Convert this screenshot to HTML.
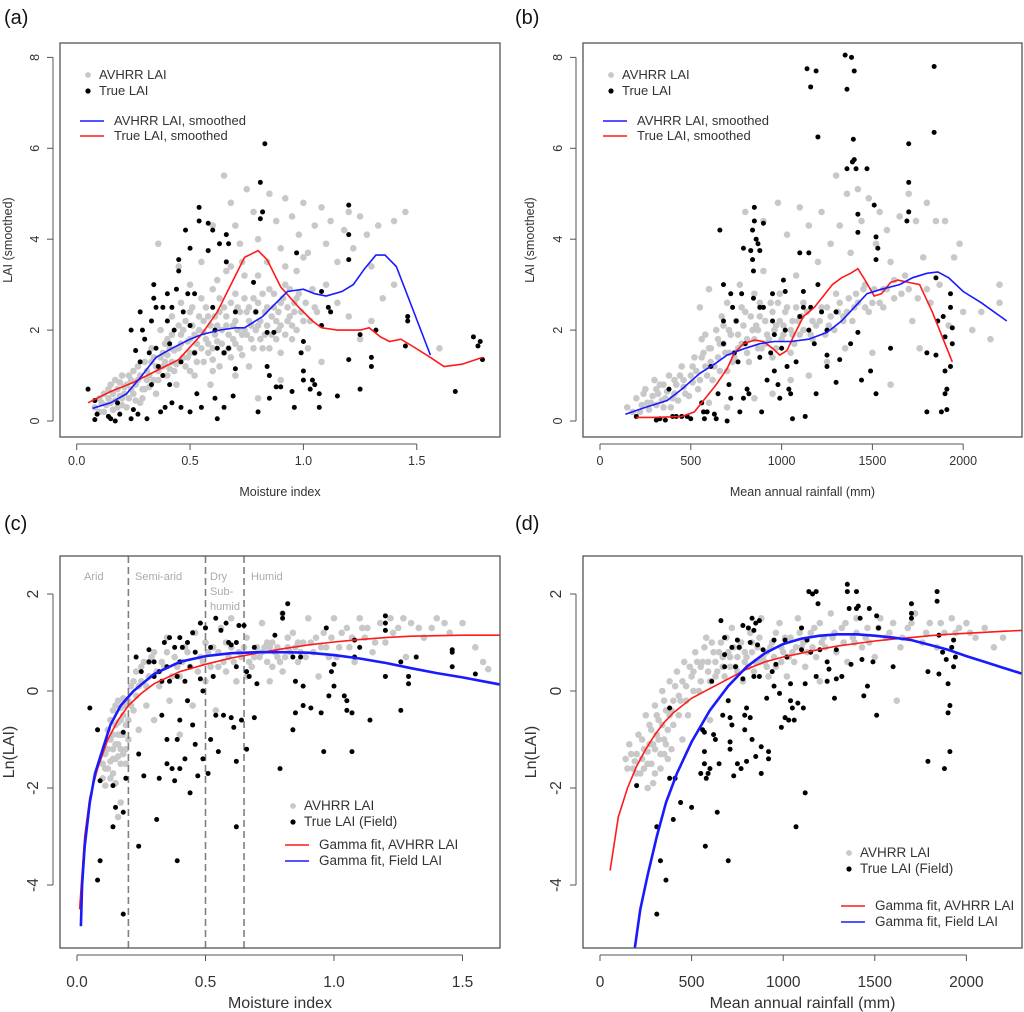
<!DOCTYPE html>
<html><head><meta charset="utf-8"><style>
body{margin:0;background:#fff;}
svg{display:block;font-family:"Liberation Sans",Arial,sans-serif;}
</style></head><body>
<svg id="fig" width="1024" height="1012" viewBox="0 0 1024 1012" xmlns="http://www.w3.org/2000/svg"></svg>
<script>
// ---- Panel (a) data: moisture index vs LAI ----
const aGrey=[.08,.3,.1,.5,.12,.2,.12,.6,.15,.4,.15,.8,.18,.3,.18,.7,.2,1,.2,.5,.22,.3,.22,.8,.25,.6,.25,1.1,.27,.9,.28,.4,.3,1.3,.3,.7,.32,1,.33,1.6,.35,1.2,.35,.6,.37,2,.38,1.5,.4,1,.4,1.8,.42,2.3,.42,1.3,.44,.8,.45,1.6,.46,2.6,.47,2,.48,1.2,.5,1.8,.5,2.4,.52,1,.52,1.5,.54,2,.55,2.7,.56,1.3,.57,1.8,.58,2.3,.59,.8,.6,1.6,.6,2.9,.62,2.1,.63,1.2,.64,1.7,.65,2.5,.66,3.3,.67,1.9,.68,1.4,.7,2.2,.7,2.8,.72,1.6,.73,3.5,.74,2,.75,2.4,.76,1.2,.77,1.8,.78,2.7,.8,2.1,.8,3.2,.82,1.6,.83,2.4,.85,2.9,.86,1.9,.88,2.2,.9,2.6,.9,1.5,.92,3,.94,2.3,.95,1.8,.97,2.7,1,2.2,1.02,1.6,1.05,2.5,.65,5.4,.68,4.8,.7,4.3,.72,3.9,.75,5.1,.78,4.6,.8,4,.85,5,.88,4.4,.9,3.8,.92,4.9,.95,4.5,.98,4.1,1,4.8,1.02,3.7,1.05,4.3,1.08,4.7,1.1,3.9,1.12,4.4,1.15,3.5,1.18,4.2,1.2,4.6,1.22,3.8,1.25,4.5,1.28,4.1,1.3,3.4,1.33,4.3,1.35,2.7,1.4,4.4,1.4,3,1.45,4.6,1.1,3,1.15,2.6,1.2,2.3,1.08,1.3,1.3,2.2,.55,3.5,.5,3,.45,3.4,.6,4.3,1.6,1.6,1.25,1.8,.9,.9,.8,.5,.36,3.9,.14,.5,.17,.9,.21,.6,.24,.9,.27,1.2,.29,.5,.31,.9,.34,1.4,.36,.9,.39,1.3,.41,1.6,.43,1.1,.46,1.9,.49,1.4,.51,2.1,.53,1.7,.56,2.2,.58,1.5,.61,1.9,.63,2.4,.66,2.1,.69,1.8,.71,2.5,.73,1.9,.76,2.2,.79,2.4,.81,1.8,.84,2.1,.87,2.5,.89,2,.93,2.2,.96,2.4,
.1,.2,.11,.4,.13,.35,.14,.7,.16,.25,.16,.6,.17,.45,.19,.55,.19,.85,.2,.35,.21,.75,.23,.5,.23,1,.24,.7,.26,.45,.26,.8,.28,1,.29,.7,.31,1.1,.32,.75,.33,1.3,.34,.9,.36,1.1,.37,1.4,.38,1.2,.39,1.7,.4,1.45,.41,1.15,.42,1.9,.43,1.55,.44,1.25,.45,2.1,.46,1.7,.47,1.4,.48,2.2,.49,1.75,.5,1.5,.51,2.5,.52,1.9,.53,1.3,.54,2.3,.55,1.6,.56,1.95,.57,2.5,.58,1.7,.59,2.1,.6,1.35,.61,2.3,.62,1.75,.63,2.7,.64,2,.65,1.5,.66,2.3,.67,1.6,.68,2.6,.69,2.1,.7,1.7,.71,2,.72,2.4,.73,1.45,.74,2.7,.75,1.9,.76,2.5,.77,2.1,.78,1.6,.79,2,.8,2.6,.81,2.2,.82,2.8,.83,1.9,.84,2.5,.85,1.6,.86,2.3,.87,2.8,.88,1.8,.89,2.4,.9,2.1,.91,2.7,.92,1.9,.93,2.5,.94,2.9,.95,2.1,.96,2.6,.97,2,.98,2.8,.99,2.4,1.01,2.6,1.03,2.2,1.04,2.9,1.06,2.4,.62,3.1,.68,3.4,.74,3.2,.84,3.5,.92,3.4,.97,3.3,1.0,3.6,.7,1.0,.6,1.1,.5,1.1];
const aBlack=[.05,.7,.08,.45,.08,.03,.09,.15,.14,.1,.15,.05,.17,0,.18,.4,.19,.15,.24,2,.24,.05,.25,.25,.26,1.55,.27,.15,.28,2.4,.29,2,.28,1.3,.3,1.8,.31,.05,.32,1.5,.33,2.2,.33,.8,.34,3,.34,2.7,.35,2.5,.35,1.6,.36,1.2,.37,.2,.38,2.5,.38,1,.39,.3,.4,2.8,.4,2.2,.41,1.7,.41,.8,.42,.4,.42,2.5,.43,2,.44,2.9,.45,3.55,.45,3.3,.46,1.3,.46,.3,.47,2.4,.48,4.2,.49,2.8,.5,3.8,.5,2.1,.5,.2,.52,2.8,.52,1.5,.53,.6,.54,4.7,.54,4.4,.55,.3,.58,4.35,.58,3.75,.6,4.2,.6,2.5,.61,2,.61,.5,.62,1.6,.62,.05,.63,3.9,.65,1.5,.65,.3,.66,4.1,.66,3.5,.67,3.9,.67,1.6,.7,1.15,.7,2.4,.69,.55,.78,3.05,.79,2.4,.8,.2,.81,4.45,.82,4.6,.81,5.25,.83,6.1,.84,1.95,.84,1.2,.85,1,.85,.5,.87,1.95,.88,.75,.9,.75,.95,.65,.96,.3,.97,3.7,.99,1.5,1,1.1,1,.9,1,1.75,1.03,.7,1.04,.9,1.05,.8,1.07,.3,1.07,.6,1.08,2.85,1.08,2.1,1.11,2.5,1.12,2.4,1.15,.55,1.2,4.75,1.2,4.1,1.2,3.55,1.2,1.35,1.25,1.9,1.25,.7,1.3,1.4,1.3,1.2,1.32,2,1.46,2.3,1.46,2.2,1.45,1.65,1.67,.65,1.75,1.85,1.77,1.65,1.78,1.75,1.79,1.35];
const aRed=[.05,.4,.15,.65,.25,.85,.35,1.1,.45,1.35,.55,1.9,.62,2.4,.68,3,.74,3.6,.8,3.75,.84,3.55,.9,2.95,.98,2.5,1.04,2.2,1.08,2.05,1.15,2,1.25,2,1.29,2.05,1.34,1.85,1.38,1.75,1.43,1.8,1.48,1.65,1.56,1.4,1.62,1.2,1.7,1.25,1.79,1.4];
const aBlue=[.07,.28,.15,.4,.22,.6,.28,.95,.35,1.4,.42,1.6,.5,1.8,.55,1.9,.63,2,.7,2.05,.74,2.05,.82,2.3,.88,2.6,.93,2.85,1,2.9,1.05,2.8,1.1,2.75,1.17,2.85,1.22,3,1.27,3.35,1.32,3.65,1.36,3.65,1.41,3.4,1.46,2.75,1.56,1.45];
const aXTicks=[0,0.5,1,1.5], aXLabels=["0.0","0.5","1.0","1.5"];
const abYTicks=[0,2,4,6,8];
// ---- Panel (b) data: rainfall vs LAI ----
const bGrey=[150,.3,200,.5,220,.2,250,.7,280,.4,300,.9,320,.6,350,.3,350,.8,380,1,400,.5,420,.8,450,1.2,470,.6,500,1,520,1.4,540,.7,550,2.5,560,1.8,580,1.2,600,1.6,600,2.9,620,.9,640,2,650,1.4,670,2.3,680,1.7,700,1.1,700,2.6,720,1.9,740,1.4,750,2.2,770,3,780,1.7,800,2.4,800,4.6,820,1.3,840,2,850,2.8,870,1.6,880,2.3,900,3.3,900,4.4,920,1.9,940,2.6,950,1.4,970,2.1,980,4.8,990,2.8,1000,1.8,1020,2.4,1030,4.1,1050,1.5,1060,2.2,1080,3.2,1100,4.7,1100,1.9,1120,2.6,1150,4.3,1170,2.2,1200,3.5,1220,4.6,1250,2.5,1270,3.9,1300,5.4,1300,2.8,1320,4.3,1340,2.2,1360,5,1380,3.7,1400,2.5,1420,5.1,1440,4.4,1460,3,1480,4.9,1500,2.6,1520,3.9,1540,4.6,1560,2.9,1580,4.2,1600,3.5,1620,2.7,1650,4.5,1680,3.2,1700,5,1720,2.2,1740,4.4,1760,1.6,1780,3.6,1800,4.8,1820,2.6,1850,4.4,1870,3,1900,4.4,1920,2.1,1950,3.6,1980,3.9,2000,2.4,2050,2,2100,2.4,2150,1.8,2200,3,2200,2.6,1150,1,1050,.9,950,.6,850,.5,1250,1.3,1350,1.6,1500,1.5,1600,.8,600,.4,700,.3,260,.4,310,.7,360,.5,410,.9,460,.9,510,1.2,560,1.4,610,1.3,660,1.7,710,1.5,760,1.9,810,1.8,860,2.1,910,1.7,960,2,1010,2.1,1060,1.9,1110,2.3,1160,1.9,1210,2.2,1260,2.1,1310,2.4,1360,2.4,1410,2.8,1460,2.5,1560,2.5,1660,2.8,
180,.2,230,.35,240,.6,270,.25,290,.55,310,.35,330,.8,340,.45,370,.65,390,.3,410,.6,430,.45,440,1.0,460,.75,490,.55,510,.85,530,1.1,550,.9,570,1.5,590,1.0,610,1.6,630,1.2,650,1.8,660,1.1,690,1.5,710,2.0,730,1.3,760,1.6,790,2.1,810,1.5,830,2.3,850,1.8,870,2.0,890,1.6,910,2.2,930,1.8,950,2.4,970,1.6,990,2.2,1010,1.9,1030,2.5,1050,2.0,1070,1.7,1090,2.2,1120,2.0,1140,2.4,1170,1.8,1190,2.1,1220,2.5,1240,1.9,1270,2.3,1290,2.0,1320,2.6,1340,2.3,1370,2.7,1390,2.2,1420,2.6,1450,2.9,1480,2.4,1510,2.9,1540,2.6,1580,2.9,1620,3.1,1700,2.9,1750,2.7,1800,2.9,780,2.5,880,2.6,980,2.6,1080,2.5,680,2.1,580,1.9];
const bBlack=[200,.1,310,.02,330,.05,360,.02,380,.7,400,.1,420,.1,450,.1,480,.1,500,.05,560,.4,570,.2,575,.05,590,.2,610,1.2,630,.15,640,.05,650,.6,660,4.2,680,3,680,2.2,680,1.7,700,0,710,.8,720,.5,720,2.8,730,2.5,740,1.5,750,2.2,760,1.3,770,.2,780,2.8,790,3.8,790,.5,800,1.7,810,.7,820,.6,830,3.75,840,4.2,840,3.55,845,3.3,845,2.7,850,4.7,850,4.4,860,4,870,3.9,880,3.75,880,2.5,880,1.4,890,.2,900,4.35,900,2.5,920,.9,940,1.5,950,2.8,950,2.2,960,1.9,960,1.1,980,.8,990,.5,1000,1.6,1010,3.1,1020,2.85,1020,2,1030,1.2,1040,.7,1050,.6,1060,.05,1080,1.3,1100,3.7,1100,2.3,1120,2.85,1120,2.5,1130,.1,1140,7.75,1150,3.7,1150,2,1160,7.35,1160,2.5,1180,1.7,1190,7.7,1190,.6,1200,6.25,1200,3,1220,2.4,1250,2,1250,1.45,1250,1.2,1300,2.4,1300,.85,1320,1.35,1350,8.05,1360,7.3,1360,5.55,1380,1.7,1385,8,1390,5.7,1395,6.2,1400,7.7,1400,5.75,1410,5.55,1420,4.55,1420,4.15,1420,1.95,1440,.9,1470,5.55,1490,1.1,1510,4.75,1520,4.05,1520,3.55,1520,.6,1530,3.8,1600,1.6,1690,4.4,1700,6.1,1700,5.25,1700,4.6,1800,1.5,1800,.2,1840,7.8,1840,6.35,1850,3.15,1850,1.45,1860,2.2,1880,.2,1890,2.3,1900,1.85,1900,1.1,1900,.6,1910,.7,1910,.25,1930,2.8,1930,2.5,1930,1.2,1940,1.7,1940,2.05];
const bRed=[200,.08,300,.08,450,.1,520,.2,580,.5,640,.8,700,1.15,740,1.5,790,1.7,850,1.78,900,1.75,950,1.6,990,1.45,1030,1.55,1070,1.9,1120,2.3,1180,2.5,1230,2.75,1280,3,1330,3.15,1380,3.25,1420,3.35,1460,3.1,1510,2.75,1550,2.8,1600,3.05,1640,3.1,1700,3.05,1760,3,1830,2.4,1900,1.7,1940,1.3];
const bBlue=[140,.15,250,.3,370,.45,450,.7,550,1.05,630,1.25,700,1.45,800,1.6,880,1.7,960,1.75,1050,1.75,1150,1.8,1250,1.95,1330,2.2,1400,2.5,1470,2.8,1550,2.9,1650,3,1720,3.15,1800,3.25,1860,3.28,1920,3.15,2000,2.85,2100,2.6,2240,2.2];
const bdXTicks=[0,500,1000,1500,2000];
// ---- Panel (c) data: moisture index vs ln(LAI) ----
const cGrey=[.1,-1.8,.11,-1.3,.12,-.8,.12,-1.6,.13,-1,.14,-.4,.14,-1.4,.15,-.7,.15,-1.9,.16,-1.1,.16,-.2,.17,-.6,.17,-1.5,.18,-.9,.19,-.3,.19,-1.2,.2,-.6,.21,.1,.22,-.4,.23,.4,.24,-.8,.25,.2,.26,.6,.27,-.3,.28,.3,.3,.8,.3,-.6,.32,.1,.34,.5,.35,1.1,.36,-.2,.38,.7,.4,.3,.4,-.9,.42,.9,.44,.5,.45,-.3,.46,1.2,.48,.7,.5,.2,.5,1,.52,.5,.54,-.4,.55,.8,.56,1.3,.58,.4,.6,.9,.6,1.5,.62,.2,.64,.7,.66,1.1,.68,.5,.7,.9,.72,1.4,.74,.6,.75,.2,.76,1,.78,.7,.8,1.6,.8,.4,.82,.9,.84,1.2,.86,.6,.88,1,.9,1.5,.92,.8,.94,.3,.96,1.2,.98,.7,1,1.5,1.02,.9,1.05,1.3,1.08,.6,1.1,1.5,1.12,1.1,1.15,.8,1.18,1.4,1.2,1,1.22,1.5,1.25,1.3,1.28,.7,1.3,1.4,1.35,1.1,1.4,1.5,1.45,1.2,1.5,1.4,1.55,.9,1.58,.6,1.6,.45,.17,-2.3,.16,-2.6,.11,-1.6,.13,-1.8,.14,-1.2,.15,-1.4,.16,-.9,.17,-1.2,.18,-.5,.13,-.6,.2,-.2,.24,.1,.28,.6,.33,.6,.37,.3,.41,.6,.47,.4,.53,.9,.57,.6,.63,.8,.67,.6,.71,.7,.73,.9,.77,.8,.79,.6,.83,.8,.87,.8,.91,1,.95,.9,.99,1.1,1.03,1.2,1.07,1.1,1.13,1.3,
.1,-1.5,.11,-1.95,.12,-1.2,.13,-1.45,.14,-.9,.14,-1.7,.15,-1.1,.15,-.3,.16,-1.35,.16,-.65,.17,-.9,.17,-.35,.18,-1.3,.18,-.15,.19,-.7,.19,-1.5,.2,-1.0,.21,-.3,.22,.2,.23,-.1,.25,.5,.27,.1,.29,.7,.31,.4,.35,.8,.39,.5,.43,.8,.49,.6,.51,.8,.55,.5,.59,.7,.61,.6,.65,.9,.69,.7,.72,.8,.75,.9,.78,.9,.81,.7,.85,.9,.89,.7,.93,1.1,.97,.9,1.01,.7,1.06,.9,1.11,1.3,1.16,1.0,1.23,1.2,1.27,1.5,1.33,1.3,1.38,1.3,1.43,1.4,.74,1.0,.82,1.1,.86,1.0,.76,.5,.66,.3,.58,1.0];
const cBlack=[.05,-.35,.08,-.8,.08,-3.9,.09,-1.85,.09,-3.5,.14,-1.95,.14,-2.8,.15,-2.4,.18,-2.5,.18,-4.6,.18,-.85,.19,-1.8,.23,.7,.24,-1.3,.24,-3.2,.25,.4,.26,-1.75,.28,.85,.28,.6,.3,.6,.3,.3,.31,-2.65,.32,-1.8,.32,.4,.33,.2,.33,-.5,.34,1,.35,.5,.35,-1,.35,-1.5,.36,.2,.36,1.1,.37,-1.6,.38,.9,.38,-1.85,.39,.3,.39,-1,.39,-3.5,.4,1.1,.4,.6,.4,-.6,.4,-1.6,.41,.9,.42,.2,.42,-1.4,.43,1,.43,-.2,.44,.5,.44,-2.1,.45,1.2,.45,-.7,.46,.8,.46,-1.1,.47,-1.75,.48,1.4,.48,.25,.49,0,.49,-1.4,.5,1.3,.51,-1.7,.52,.9,.52,-1,.53,.3,.54,1.5,.54,-.5,.55,-1.25,.56,1.25,.57,-.5,.58,1.4,.59,1,.6,.95,.6,-.55,.61,-.75,.62,1,.62,.5,.62,-1.45,.62,-2.8,.63,1.35,.64,-.6,.65,1.35,.66,.4,.66,-1.2,.67,.3,.69,.9,.69,-.55,.7,.15,.77,1.15,.79,-1.6,.8,1.5,.8,1.6,.82,1.8,.84,.7,.84,-.8,.85,.2,.85,-.45,.87,.7,.88,.1,.88,-.3,.91,-.35,.95,-.45,.96,-1.25,.97,1.3,.98,-.1,.99,.4,1,.1,1,.55,1.04,-.1,1.05,-.2,1.05,-.4,1.07,-.45,1.07,-1.25,1.08,1.05,1.08,.7,1.1,.9,1.14,-.6,1.2,1.55,1.2,1.4,1.2,1.25,1.2,.3,1.26,.6,1.26,-.4,1.29,.3,1.29,.15,1.32,.7,1.46,.8,1.46,.85,1.46,.5,1.55,.35];
const cRed=[.01,-4.5,.03,-3,.05,-2.2,.08,-1.6,.12,-1,.16,-.6,.2,-.3,.25,-.05,.3,.15,.4,.4,.5,.55,.6,.68,.7,.78,.8,.87,.9,.95,1,1.01,1.1,1.06,1.2,1.1,1.3,1.13,1.4,1.14,1.5,1.15,1.65,1.15];
const cBlue=[.015,-4.85,.02,-4,.03,-3.2,.05,-2.3,.07,-1.7,.1,-1.2,.13,-.7,.17,-.3,.22,0,.3,.35,.4,.6,.5,.72,.6,.78,.7,.8,.8,.8,.9,.79,1,.74,1.1,.67,1.2,.58,1.3,.47,1.4,.37,1.5,.28,1.65,.13];
const cZones=[0.2,0.5,0.65];
const cdYTicks=[-4,-2,0,2];
// ---- Panel (d) data: rainfall vs ln(LAI) ----
const dGrey=[140,-1.4,160,-1.1,180,-1.6,200,-1.3,210,-.9,220,-1.7,240,-1.2,250,-.5,260,-1.5,280,-.8,290,-1.9,300,-.3,300,-1.2,320,-.6,330,-1.6,340,0,350,-1,360,-.4,370,-1.4,380,.2,400,-.7,420,.4,440,-.2,460,.6,480,-.5,500,.3,520,.8,540,0,560,.6,580,1.1,600,.2,620,.8,640,.4,660,1,680,.3,700,.8,720,1.3,740,.5,760,.9,780,.2,800,.7,820,1.2,840,.4,860,.9,880,1.5,900,.6,920,.3,940,1,960,.5,980,1.4,1000,.8,1020,.3,1040,1.1,1060,.6,1080,1.5,1100,.9,1120,.5,1150,1.2,1180,.7,1200,1.4,1230,.9,1260,1.6,1290,.8,1320,1.3,1350,.6,1380,1.1,1400,1.5,1430,.9,1460,1.3,1500,.7,1530,1.5,1560,1.1,1600,1.4,1640,.9,1680,1.3,1720,1.6,1760,1,1800,1.4,1840,.9,1880,1.2,1920,1.5,1960,1.3,2000,1.4,2050,1.1,2100,1.3,2150,.9,2200,1.1,1620,-.2,450,-1,260,-2,600,-.6,1200,.2,230,-1.4,270,-1.1,310,-.9,350,-1.3,390,-.4,430,-.1,470,.1,510,.4,550,.5,590,.6,630,.6,670,.7,710,.5,750,.7,790,.6,830,.8,870,.6,910,.8,950,.7,990,.9,1030,.7,1070,.9,1110,1,1160,.9,1210,1,1270,1.1,1330,1,1390,1,1450,1.1,
150,-1.6,170,-1.3,190,-1.45,200,-1.7,230,-1.0,240,-1.6,260,-1.25,270,-.7,280,-1.5,290,-1.1,300,-1.7,310,-.5,320,-1.0,330,-1.3,340,-.7,350,-.2,360,-1.1,370,-.8,380,-.5,390,-1.2,400,-.2,410,.1,430,-.5,450,.2,470,-.2,490,.5,510,0,530,.6,550,.2,570,.9,590,.4,610,1.0,630,.3,650,.8,670,.5,690,1.1,710,.7,730,.9,750,.4,770,1.0,790,.8,810,.5,830,1.0,850,.6,870,1.1,890,.7,910,.5,930,.9,960,1.2,990,.6,1010,1.1,1050,.8,1090,1.2,1130,.8,1170,1.3,1220,1.1,1280,1.2,1340,1.4,1400,1.2,1470,1.0,1520,1.3,1580,1.2,1650,1.1,1700,1.4,1780,1.2,1860,1.4,1940,1.2,2020,1.2];
const dBlack=[200,-1.95,310,-2.8,310,-4.6,330,-3.5,360,-3.9,380,-.35,380,-1.8,400,-2.65,410,-1.8,440,-2.3,500,-2.4,550,-1.7,560,-.8,570,-.85,570,-1.25,570,-1.5,575,-3.2,580,-1.8,590,-1.7,600,-1.6,610,.2,620,-.9,630,-1,640,-2.5,650,-1.5,660,1.45,670,-.5,680,1.1,680,.75,680,.5,700,-.2,700,-3.5,710,-.55,710,-1.05,710,-1.2,720,-.7,720,.9,730,-1.75,740,.5,750,1.05,750,-1.5,760,.9,770,-1.6,780,1.35,780,.25,790,-.5,790,-.8,800,-.35,800,-1.45,810,1.3,820,-.55,820,1,830,1.5,830,-1,840,.3,840,1.25,850,1.4,850,-1.35,860,.95,870,1.45,870,.3,880,-1.15,880,-1.7,890,.85,910,-.15,920,-1.25,920,-1.4,940,.4,950,1.05,950,.1,960,.55,980,-.05,990,-.75,1010,1.05,1010,-.55,1020,.7,1030,-.6,1040,.15,1040,-.2,1050,-.35,1060,-.6,1070,-2.8,1080,-.25,1100,1.3,1100,.85,1110,-.35,1120,-2.1,1120,.15,1130,1.05,1140,2.05,1150,.8,1160,2,1180,2.05,1180,.3,1190,1.8,1200,.85,1240,.6,1240,.2,1250,.45,1280,-.15,1290,.25,1290,.85,1320,.3,1350,2.2,1350,2.05,1360,1.7,1370,.55,1400,2.05,1400,1.7,1410,1.75,1420,1.5,1430,.65,1440,-.1,1460,.1,1470,1.7,1490,.6,1510,1.55,1510,-.5,1520,1.3,1600,.5,1700,1.8,1700,1.5,1700,1.6,1790,.4,1790,-1.45,1840,2.05,1840,1.85,1850,1.15,1850,.35,1870,.8,1880,-1.6,1890,.65,1900,.15,1900,-.45,1910,-.3,1910,-1.25,1920,.9,1930,.5,1930,1.05,1940,.7];
const dRed=[55,-3.7,100,-2.6,150,-2,200,-1.55,250,-1.2,300,-.9,350,-.65,400,-.45,500,-.15,600,.05,700,.25,800,.45,900,.6,1000,.7,1100,.78,1200,.86,1300,.93,1400,.98,1500,1.03,1600,1.07,1700,1.1,1800,1.14,1900,1.17,2000,1.19,2100,1.21,2200,1.23,2300,1.25];
const dBlue=[190,-5.3,220,-4.5,260,-3.8,310,-3,360,-2.3,420,-1.7,500,-1.05,600,-.4,700,.1,800,.5,900,.78,1000,.97,1100,1.08,1200,1.14,1300,1.17,1400,1.17,1500,1.14,1600,1.1,1700,1.05,1800,.95,1900,.85,2000,.72,2100,.6,2200,.48,2300,.36];

const NS="http://www.w3.org/2000/svg";
const svg=document.getElementById('fig');
function mk(tag,attrs,parent){const e=document.createElementNS(NS,tag);for(const k in attrs)e.setAttribute(k,attrs[k]);(parent||svg).appendChild(e);return e;}
function txt(s,x,y,size,fill,anchor,rot,parent){const t=mk('text',{x:x,y:y,'font-size':size,fill:fill,'text-anchor':anchor||'middle'},parent);if(rot)t.setAttribute('transform','rotate(-90 '+x+' '+y+')');t.textContent=s;return t;}

function panel(cfg){
  const g=mk('g',{});
  
  
  const X=v=>cfg.x0+(v-cfg.xv0)*cfg.xs, Y=v=>cfg.y0-(v-cfg.yv0)*cfg.ys;
  const clipId='clip'+cfg.id;
  const cp=mk('clipPath',{id:clipId},g);mk('rect',{x:cfg.L,y:cfg.T,width:cfg.R-cfg.L,height:cfg.B-cfg.T},cp);
  const pts=mk('g',{'clip-path':'url(#'+clipId+')'},g);
  for(let i=0;i<cfg.grey.length;i+=2){
    const c=mk('circle',{cx:X(cfg.grey[i]),cy:Y(cfg.grey[i+1]),r:3.3,fill:'#c8c8c8'},pts);
    
    
  }
  if(cfg.zones){cfg.zones.forEach(z=>{const l=mk('line',{x1:X(z),x2:X(z),y1:cfg.T,y2:cfg.B,stroke:'#808080','stroke-width':1.6,'stroke-dasharray':'7,4'},pts);
    
    });}
  for(let i=0;i<cfg.black.length;i+=2){
    const c=mk('circle',{cx:X(cfg.black[i]),cy:Y(cfg.black[i+1]),r:2.5,fill:'#000'},pts);
    
    
  }
  [[cfg.red,'#ff1a1a',cfg.lw,'red-curve'],[cfg.blue,'#1a1aff',cfg.lw2||cfg.lw,'blue-curve']].forEach(([arr,col,w,nm])=>{
    let d='';for(let i=0;i<arr.length;i+=2)d+=(i?'L':'M')+X(arr[i]).toFixed(1)+' '+Y(arr[i+1]).toFixed(1);
    const p=mk('path',{d:d,fill:'none',stroke:col,'stroke-width':w},pts);
    
    
  });
  const box=mk('rect',{x:cfg.L,y:cfg.T,width:cfg.R-cfg.L,height:cfg.B-cfg.T,fill:'none',stroke:'#555','stroke-width':1.3},g);
  
  
  const xa=mk('g',{},g);
  
  
  const xt=cfg.xTicks;
  mk('line',{x1:X(xt[0]),x2:X(xt[xt.length-1]),y1:cfg.B+7,y2:cfg.B+7,stroke:'#555','stroke-width':1},xa);
  xt.forEach((v,i)=>{mk('line',{x1:X(v),x2:X(v),y1:cfg.B+7,y2:cfg.B+13,stroke:'#555'},xa);
    const t=txt(cfg.xLabels?cfg.xLabels[i]:String(v),X(v),cfg.B+cfg.xlOff,cfg.tickFs,'#333','middle',false,xa);
    
    });
  const ya=mk('g',{},g);
  
  
  const yt=cfg.yTicks;
  mk('line',{x1:cfg.L-7,x2:cfg.L-7,y1:Y(yt[0]),y2:Y(yt[yt.length-1]),stroke:'#555'},ya);
  yt.forEach(v=>{mk('line',{x1:cfg.L-7,x2:cfg.L-13,y1:Y(v),y2:Y(v),stroke:'#555'},ya);
    const t=txt(String(v),cfg.L-cfg.ylOff,Y(v),cfg.tickFs,'#333','middle',true,ya);
    
    });
  const xl=txt(cfg.xTitle,(cfg.L+cfg.R)/2,cfg.xTitleY,cfg.titleFs,'#333');
  
  
  const yl=txt(cfg.yTitle,cfg.yTitleX,(cfg.T+cfg.B)/2,cfg.titleFs,'#333','middle',true);
  
  
  const pl=txt(cfg.tag,cfg.tagX,24,20,'#111','start');
  pl.setAttribute('transform','translate(0,'+cfg.tagDy+')');
  
  
  const lg=mk('g',{},g);
  
  
  const L=cfg.leg;
  mk('circle',{cx:L.dx,cy:L.y1-4,r:2.9,fill:'#c8c8c8'},lg);
  txt('AVHRR LAI',L.dx+11,L.y1,L.fs,'#333','start',false,lg);
  mk('circle',{cx:L.dx,cy:L.y2-4,r:2.6,fill:'#000'},lg);
  txt(L.t2,L.dx+11,L.y2,L.fs,'#333','start',false,lg);
  mk('line',{x1:L.lx,x2:L.lx+24,y1:L.y3-4,y2:L.y3-4,stroke:L.c3,'stroke-width':1.5},lg);
  txt(L.t3,L.lx+34,L.y3,L.fs,'#333','start',false,lg);
  mk('line',{x1:L.lx,x2:L.lx+24,y1:L.y4-4,y2:L.y4-4,stroke:L.c4,'stroke-width':1.5},lg);
  txt(L.t4,L.lx+34,L.y4,L.fs,'#333','start',false,lg);
  if(cfg.zoneText){cfg.zoneText.forEach(z=>{const t=txt(z[0],z[1],z[2],11,'#aaa','start',false,g);
    
    });}
}
const topCommon={T:43,B:437,y0:421,yv0:0,ys:45.45,yTicks:abYTicks,tickFs:12.5,titleFs:12.5,xlOff:28,ylOff:21,xTitleY:496,yTitle:'LAI (smoothed)',lw:1.6};
panel(Object.assign({},topCommon,{id:'a',name:'panel-a',L:60,R:500,x0:76.7,xv0:0,xs:226.7,xTicks:aXTicks,xLabels:aXLabels,grey:aGrey,black:aBlack,red:aRed,blue:aBlue,xTitle:'Moisture index',yTitleX:12,tag:'(a)',tagX:4,tagDy:0,
 leg:{dx:88,lx:80,y1:79,y2:95,y3:125,y4:140,fs:13,t2:'True LAI',t3:'AVHRR LAI, smoothed',t4:'True LAI, smoothed',c3:'#1a1aff',c4:'#ff1a1a'}}));
panel(Object.assign({},topCommon,{id:'b',name:'panel-b',L:583,R:1022,x0:600,xv0:0,xs:0.1816,xTicks:bdXTicks,grey:bGrey,black:bBlack,red:bRed,blue:bBlue,xTitle:'Mean annual rainfall (mm)',yTitleX:534,tag:'(b)',tagX:515,tagDy:0,
 leg:{dx:611,lx:603,y1:79,y2:95,y3:125,y4:140,fs:13,t2:'True LAI',t3:'AVHRR LAI, smoothed',t4:'True LAI, smoothed',c3:'#1a1aff',c4:'#ff1a1a'}}));
const botCommon={T:556,B:948,y0:691,yv0:0,ys:48.5,yTicks:cdYTicks,tickFs:15.5,titleFs:16,xlOff:39,ylOff:22,xTitleY:1008,yTitle:'Ln(LAI)',lw:1.6,lw2:2.6};
panel(Object.assign({},botCommon,{id:'c',name:'panel-c',L:60,R:500,x0:77,xv0:0,xs:257,xTicks:aXTicks,xLabels:aXLabels,grey:cGrey,black:cBlack,red:cRed,blue:cBlue,zones:cZones,xTitle:'Moisture index',yTitleX:14,tag:'(c)',tagX:4,tagDy:506,
 zoneText:[['Arid',84,580],['Semi-arid',135,580],['Dry',210,580],['Sub-',210,595],['humid',210,610],['Humid',251,580]],
 leg:{dx:293,lx:285,y1:810,y2:826,y3:849,y4:865,fs:13.5,t2:'True LAI (Field)',t3:'Gamma fit, AVHRR LAI',t4:'Gamma fit, Field LAI',c3:'#ff1a1a',c4:'#1a1aff'}}));
panel(Object.assign({},botCommon,{id:'d',name:'panel-d',L:583,R:1022,x0:600,xv0:0,xs:0.1832,xTicks:bdXTicks,grey:dGrey,black:dBlack,red:dRed,blue:dBlue,xTitle:'Mean annual rainfall (mm)',yTitleX:536,tag:'(d)',tagX:515,tagDy:506,
 leg:{dx:849,lx:841,y1:857,y2:873,y3:910,y4:926,fs:13.5,t2:'True LAI (Field)',t3:'Gamma fit, AVHRR LAI',t4:'Gamma fit, Field LAI',c3:'#ff1a1a',c4:'#1a1aff'}}));
</script>
</body></html>
